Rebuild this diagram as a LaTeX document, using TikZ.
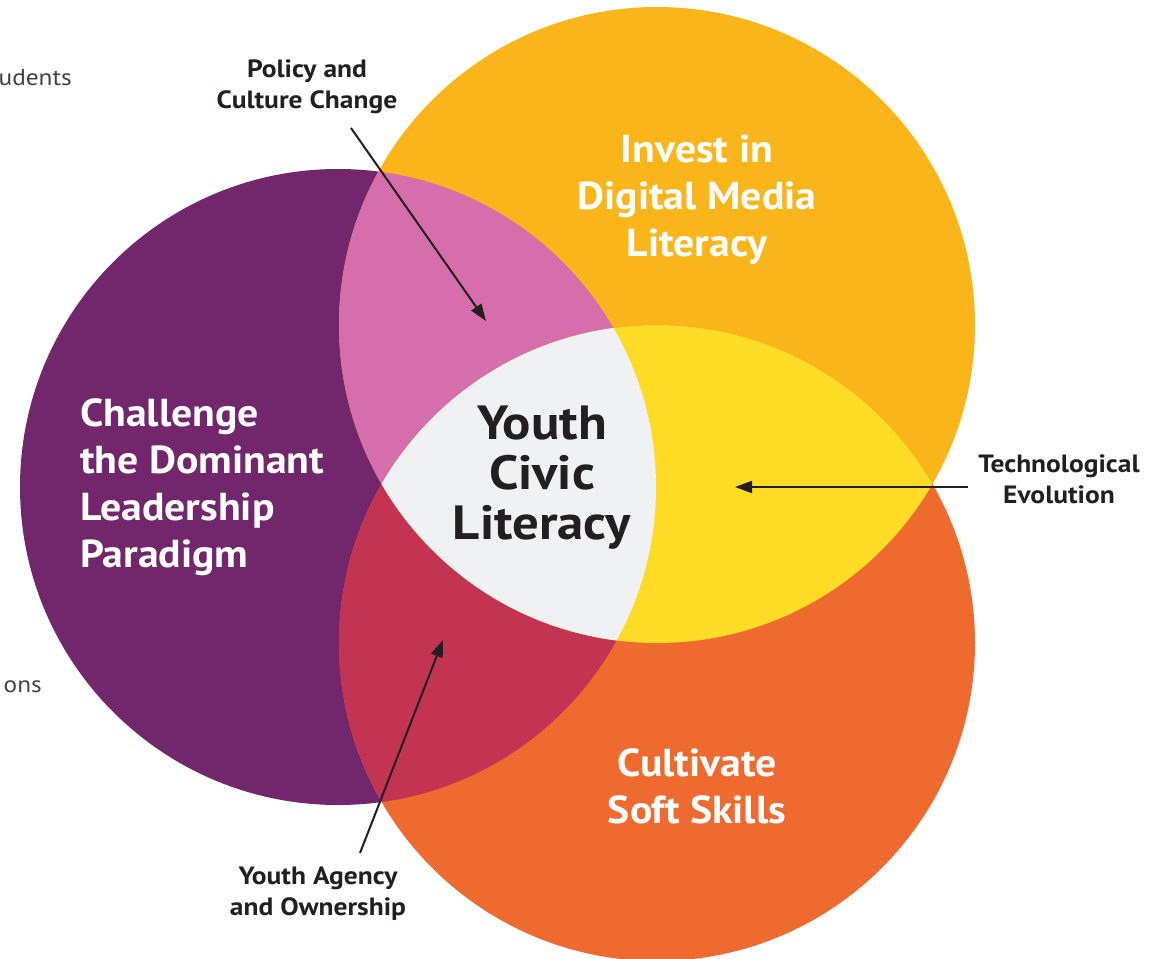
\documentclass[tikz,border=0pt]{standalone}
\usepackage{fontspec}
\setmainfont{PT Sans}
\newfontfamily\fsmall[FakeStretch=1.1]{PT Sans}
\newfontfamily\fbig[FakeStretch=1.07]{PT Sans}
\newfontfamily\fcore[FakeStretch=1.1]{PT Sans}
\usetikzlibrary{arrows.meta}
\definecolor{cpurple}{HTML}{72266B}
\definecolor{cgold}{HTML}{F9B51A}
\definecolor{corange}{HTML}{EE6A2F}
\definecolor{cpink}{HTML}{D66EAB}
\definecolor{cred}{HTML}{C23451}
\definecolor{cyellow}{HTML}{FEDC25}
\definecolor{ccenter}{HTML}{F0F1F3}
\definecolor{cink}{HTML}{231F20}
\begin{document}
\begin{tikzpicture}[x=1pt,y=-1pt,
  small/.style={font=\fsmall\bfseries\fontsize{25}{31}\selectfont, text=cink, align=center, inner sep=0pt},
  big/.style={font=\fbig\bfseries\fontsize{39}{47}\selectfont, text=white, align=center, inner sep=0pt},
  core/.style={font=\fcore\bfseries\fontsize{48}{50}\selectfont, text=cink, align=center, inner sep=0pt},
  side/.style={font=\fsmall\fontsize{23}{26}\selectfont, text=cink!85, inner sep=0pt},
  pointer/.style={draw=cink, line width=2pt, -{Triangle[length=17pt,width=12pt]}}]
\useasboundingbox (0,0) rectangle (1156,958);
\clip (0,0) rectangle (1156,958);
\coordinate (P) at (338,487);
\coordinate (G) at (657,325);
\coordinate (O) at (657,643);
\def\R{318pt}
% circles
\fill[cpurple] (P) circle (\R);
\fill[cgold] (G) circle (\R);
\fill[corange] (O) circle (\R);
% pairwise overlaps
\begin{scope}
  \clip (P) circle (\R);
  \fill[cpink] (G) circle (\R);
  \fill[cred] (O) circle (\R);
\end{scope}
\begin{scope}
  \clip (G) circle (\R);
  \fill[cyellow] (O) circle (\R);
  \clip (O) circle (\R);
  \fill[ccenter] (P) circle (\R);
\end{scope}
% texts
\node[side, anchor=east] (stud) at (72,78) {udents};
\node[side, anchor=east] (ons) at (42,687) {ons};
\node[small] (policy) at (307,87) {Policy and\\Culture Change};
\node[small] (tech) at (1059,479) {Technological\\Evolution};
\node[small] (agency) at (318,894) {Youth Agency\\and Ownership};
\node[big] (invest) at (697,200) {Invest in\\Digital Media\\Literacy};
\node[big, align=left, anchor=west] (challenge) at (80,487) {Challenge\\the Dominant\\Leadership\\Paradigm};
\node[big] (soft) at (697,786) {Cultivate\\Soft Skills};
\node[core] (youth) at (542,478) {Youth\\Civic\\Literacy};
% pointers
\coordinate (pt1) at (486,321);
\coordinate (pt2) at (735,487);
\coordinate (pt3) at (443,640);
\coordinate (ps1) at (351,128);
\coordinate (ps2) at (968,487);
\coordinate (ps3) at (360,853);
\draw[pointer] (ps1) -- (pt1);
\draw[pointer] (ps2) -- (pt2);
\draw[pointer] (ps3) -- (pt3);
\end{tikzpicture}
\end{document}
